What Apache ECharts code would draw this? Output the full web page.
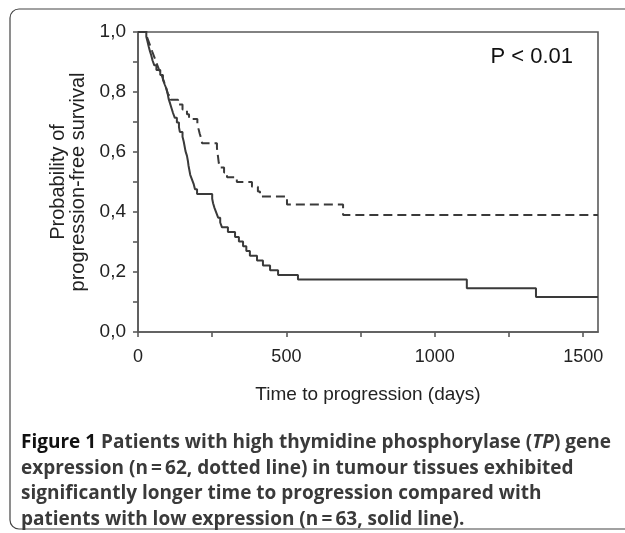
<!DOCTYPE html>
<html>
<head>
<meta charset="utf-8">
<script src="https://cdn.jsdelivr.net/npm/echarts@6/dist/echarts.min.js"></script>
<style>
  html, body { margin: 0; padding: 0; background: #fff; }
  #chart { width: 625px; height: 533px; }
</style>
</head>
<body>
<div id="chart"></div>
<script>
// Kaplan-Meier steps (days, survival probability)
const lowDays = [0, 28, 32, 36, 40, 45, 49, 55, 62, 67, 75, 84, 90, 96, 100, 103, 108, 113, 118, 124, 131, 138, 141, 150, 154, 157, 160, 165, 168, 170, 173, 176, 182, 188, 192, 199, 250, 253, 258, 264, 270, 277, 283, 303, 327, 340, 354, 365, 377, 401, 421, 445, 472, 539, 1108, 1341, 1550];
const lowSurv = [1, 0.984, 0.968, 0.952, 0.937, 0.921, 0.905, 0.889, 0.873, 0.873, 0.857, 0.841, 0.825, 0.81, 0.794, 0.778, 0.762, 0.746, 0.73, 0.714, 0.698, 0.683, 0.667, 0.651, 0.635, 0.619, 0.603, 0.587, 0.571, 0.556, 0.54, 0.524, 0.508, 0.492, 0.476, 0.46, 0.444, 0.429, 0.413, 0.397, 0.381, 0.365, 0.349, 0.333, 0.317, 0.302, 0.286, 0.27, 0.254, 0.238, 0.222, 0.206, 0.19, 0.175, 0.146, 0.117, 0.117];

const highDays = [0, 30, 36, 42, 48, 54, 60, 66, 72, 80, 86, 92, 97, 102, 110, 135, 150, 165, 172, 200, 204, 208, 213, 216, 266, 268, 270, 272, 275, 290, 300, 333, 384, 404, 411, 502, 691, 1550];
const highSurv = [1, 0.984, 0.968, 0.952, 0.935, 0.919, 0.903, 0.887, 0.871, 0.855, 0.839, 0.823, 0.806, 0.79, 0.774, 0.758, 0.742, 0.726, 0.71, 0.694, 0.677, 0.661, 0.645, 0.629, 0.613, 0.597, 0.581, 0.565, 0.548, 0.532, 0.516, 0.5, 0.484, 0.468, 0.452, 0.425, 0.39, 0.39];

const xLabelValues = [0, 500, 1000, 1500];
const xTickValues = [0, 250, 500, 750, 1000, 1250, 1500];
const yLabelValues = [0, 0.2, 0.4, 0.6, 0.8, 1.0];
const yTickValues = [0, 0.1, 0.2, 0.3, 0.4, 0.5, 0.6, 0.7, 0.8, 0.9, 1.0];

const captionLines = [
  "{b|Figure 1} Patients with high thymidine phosphorylase ({i|TP}) gene",
  "expression (n\u2009=\u200962, dotted line) in tumour tissues exhibited",
  "significantly longer time to progression compared with",
  "patients with low expression (n\u2009=\u200963, solid line).",
];

const zip = (xs, ys) => xs.map((x, i) => [x, ys[i]]);

const chart = echarts.init(document.getElementById("chart"), null, { renderer: "canvas" });

const axisFont = "'Liberation Sans', Arial, sans-serif";
const capFont = "'Open Sans', sans-serif";
const ink = "#3a3a3a";
const frame = "#5a5a5a";

chart.setOption({
  animation: false,
  backgroundColor: "#fff",
  grid: {
    left: 138,
    top: 32,
    right: 27,
    bottom: 201,
    show: true,
    borderColor: frame,
    borderWidth: 1.6,
  },
  xAxis: {
    type: "value",
    min: 0,
    max: 1550,
    name: "Time to progression (days)",
    nameLocation: "middle",
    nameGap: 53,
    nameTextStyle: { fontFamily: axisFont, fontSize: 19, color: "#222" },
    axisLine: { show: true, lineStyle: { color: frame, width: 1.6 } },
    axisTick: { show: true, length: 5, customValues: xTickValues, lineStyle: { color: frame, width: 1.6 } },
    axisLabel: {
      customValues: xLabelValues,
      margin: 16,
      fontFamily: axisFont,
      fontSize: 18,
      color: "#222",
      formatter: (v) => String(v),
    },
    splitLine: { show: false },
  },
  yAxis: {
    type: "value",
    min: 0,
    max: 1,
    name: "Probability of\nprogression-free survival",
    nameLocation: "middle",
    nameRotate: 90,
    nameGap: 49,
    nameTextStyle: { fontFamily: axisFont, fontSize: 20, lineHeight: 20, color: "#222", align: "center" },
    axisLine: { show: true, lineStyle: { color: frame, width: 1.6 } },
    axisTick: { show: true, length: 5, customValues: yTickValues, lineStyle: { color: frame, width: 1.6 } },
    axisLabel: {
      customValues: yLabelValues,
      margin: 12,
      fontFamily: axisFont,
      fontSize: 19,
      color: "#222",
      formatter: (v) => v.toFixed(1).replace(".", ","),
    },
    splitLine: { show: false },
  },
  series: [
    {
      name: "Low expression",
      type: "line",
      step: "end",
      showSymbol: false,
      data: zip(lowDays, lowSurv),
      lineStyle: { color: ink, width: 2 },
    },
    {
      name: "High expression",
      type: "line",
      step: "end",
      showSymbol: false,
      data: zip(highDays, highSurv),
      lineStyle: { color: ink, width: 2, type: [9, 5] },
    },
  ],
  graphic: [
    {
      type: "rect",
      shape: { x: 10, y: 9, width: 640, height: 520, r: 9 },
      style: { fill: null, stroke: "#444", lineWidth: 1.2 },
      silent: true,
    },
    {
      type: "text",
      x: 573,
      y: 57,
      style: {
        text: "P < 0.01",
        font: "22px 'Liberation Sans', Arial, sans-serif",
        fill: "#111",
        align: "right",
        verticalAlign: "middle",
      },
    },
    {
      type: "text",
      x: 21,
      y: 430,
      style: {
        text: captionLines.join("\n"),
        fontFamily: capFont,
        fontSize: 19,
        fontWeight: "bold",
        lineHeight: 25.5,
        fill: "#3a3a3a",
        rich: {
          b: { fontFamily: capFont, fontSize: 19, fontWeight: "bold", fill: "#111", lineHeight: 25.5 },
          i: { fontFamily: capFont, fontSize: 19, fontWeight: "bold", fontStyle: "italic", fill: "#3a3a3a", lineHeight: 25.5 },
        },
      },
    },
  ],
});
</script>
</body>
</html>
